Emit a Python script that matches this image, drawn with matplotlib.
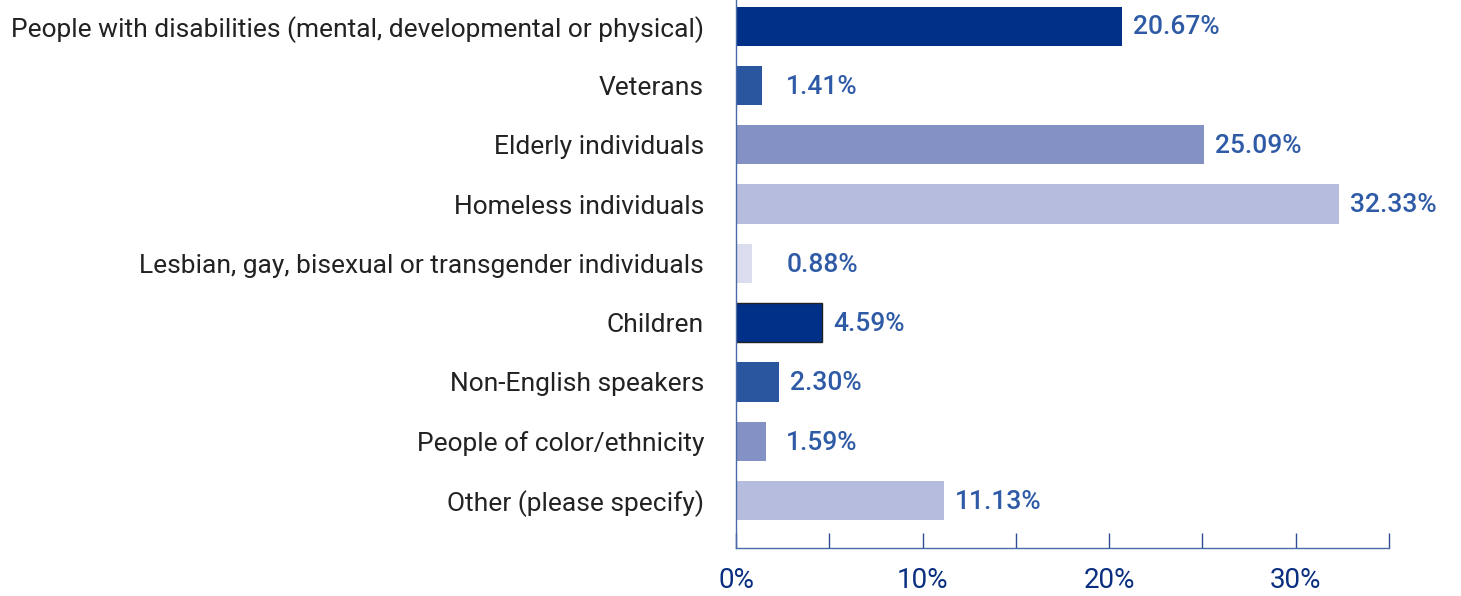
import matplotlib.pyplot as plt
import numpy as np

plt.rcParams['font.family'] = ['Roboto', 'DejaVu Sans']

categories = ['People with disabilities (mental, developmental or physical)',
              'Veterans',
              'Elderly individuals',
              'Homeless individuals',
              'Lesbian, gay, bisexual or transgender individuals',
              'Children',
              'Non-English speakers',
              'People of color/ethnicity',
              'Other (please specify)']
values = [20.67, 1.41, 25.09, 32.33, 0.88, 4.59, 2.30, 1.59, 11.13]
colors = ['#003087', '#2a56a0', '#8391c5', '#b5bcdd', '#dcdcef',
          '#003087', '#2a56a0', '#8391c5', '#b5bcdd']
xtick_labels = ['0%', '', '10%', '', '20%', '', '30%', '']

fig = plt.figure(figsize=(14.61, 5.96), dpi=100)
ax = fig.add_axes([0.5038, 0.0805, 0.4469, 0.9195])

y = np.arange(len(categories))
bars = ax.barh(y, values, height=0.66, color=colors)
# Children bar is drawn with a dark outline
bars[5].set_edgecolor('#222222')
bars[5].set_linewidth(1)

for yi, v in zip(y, values):
    ax.annotate(f'{v:.2f}%', xy=(max(v, 2.1), yi), xytext=(8, -1),
                textcoords='offset points', va='center', ha='left',
                fontsize=19, fontweight='medium', color='#2e5aa6')

ax.set_ylim(8.80, -0.44)
ax.set_xlim(0, 35)
ax.set_yticks(y)
ax.set_yticklabels(categories, fontsize=19, color='#222222')
ax.tick_params(axis='y', length=0, pad=23)

ax.set_xticks(np.arange(0, 36, 5))
ax.set_xticklabels(xtick_labels)
ax.tick_params(axis='x', direction='in', length=11, width=1, color='#2e4f95',
               labelsize=20, labelcolor='#0a2f80', pad=14)

for s in ['top', 'right']:
    ax.spines[s].set_visible(False)
for s in ['left', 'bottom']:
    ax.spines[s].set_color('#4a6aa8')
    ax.spines[s].set_linewidth(1)

plt.savefig('out.png', dpi=100)
